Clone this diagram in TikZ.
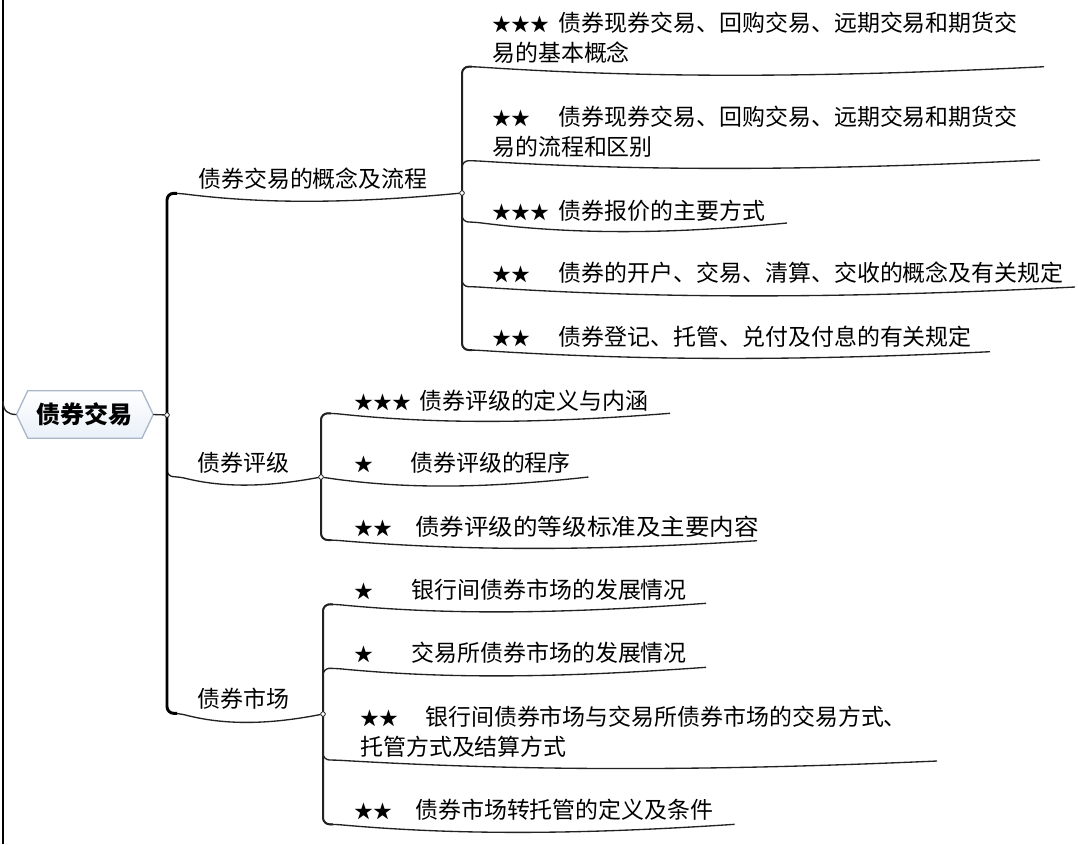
\documentclass[tikz,border=0pt]{standalone}
\usepackage{fontspec}
\setmainfont{Noto Sans CJK SC}
\newfontfamily\starfont{Noto Sans CJK SC}
\usetikzlibrary{calc,backgrounds}
\definecolor{linec}{HTML}{222222}
\definecolor{hexborder}{HTML}{A9B7CA}
\definecolor{hexfill}{HTML}{E9F0F8}
\newcommand\stars[2]{\makebox[#1][l]{\starfont\fontsize{14.2}{14.2}\selectfont #2}}
% #1 junction, #2 bracket x, #3 start y, #4 end x, #5 end y, #6 sag, #7 end coordinate name
\newcommand\ulcurve[7]{%
  \coordinate (#7) at (#4,#5);
  \draw[ulline] (#1) -- (#2,#3) -- ({#2+12},#3) .. controls ({#2+12+0.3*(#4-#2-12)},{#3+1.33*#6}) and ({#2+12+0.6*(#4-#2-12)},{#5+1.33*#6}) .. (#7);
}
% curve ending on a named junction node
\newcommand\ulcurvej[7]{%
  \draw[ulline] (#1) -- (#2,#3) -- ({#2+12},#3) .. controls ({#2+12+0.3*(#4-#2-12)},{#3+1.33*#6}) and ({#2+12+0.6*(#4-#2-12)},{#5+1.33*#6}) .. (#7);
}
\begin{document}
\begin{tikzpicture}[x=0.75pt,y=-0.75pt,
  txt/.style={anchor=west, inner sep=0pt, align=left, font=\fontsize{17.2}{22.5}\selectfont},
  junc/.style={circle, draw=linec, fill=white, inner sep=0pt, minimum size=3.4pt, line width=0.5pt},
  ulline/.style={draw=linec, line width=1pt, rounded corners=5pt},
  brk/.style={draw=linec, line width=1.5pt, rounded corners=5pt},
  mainbrk/.style={draw=black, line width=2.2pt, rounded corners=5pt},
]
\useasboundingbox (0,0) rectangle (1078,844);

% left margin line
\coordinate (ltop) at (3,0);
\coordinate (lbot) at (3,844);
\coordinate (lj) at (3,401);
\draw[draw=black, line width=2pt] (ltop) -- (lbot);

% root
\node[minimum width=102.2pt, minimum height=35.25pt, inner sep=0pt,
      font=\bfseries\fontsize{18}{18}\selectfont] (root) at (84.85,414.5) {债券交易};
\begin{scope}[on background layer]
\shadedraw[top color=white, bottom color=hexfill, draw=hexborder, line width=1pt]
  (root.west) -- ($(root.north west)+(11.3,0)$) -- ($(root.north east)+(-11.3,0)$)
  -- (root.east) -- ($(root.south east)+(-11.3,0)$) -- ($(root.south west)+(11.3,0)$) -- cycle;
\end{scope}
\draw[ulline] (lj) .. controls (3,411) and (8,414.5) .. (root.west);

% junctions
\node[junc] (j0) at (167,415) {};
\node[junc] (j1) at (462,193) {};
\node[junc] (j2) at (321,477) {};
\node[junc] (j3) at (323,714) {};
\draw[ulline] (root.east) -- (j0);

% first-level texts
\node[txt] (b1) at (198,178.3) {债券交易的概念及流程};
\node[txt] (b2) at (197.6,463) {债券评级};
\node[txt] (b3) at (197,698.3) {债券市场};

% branch 1 items
\node[txt] (i11) at (492,37.5) {\stars{50pt}{★★★}债券现券交易、回购交易、远期交易和期货交\\易的基本概念};
\node[txt] (i12) at (492,132) {\stars{50pt}{★★}债券现券交易、回购交易、远期交易和期货交\\易的流程和区别};
\node[txt] (i13) at (492,210.7) {\stars{50pt}{★★★}债券报价的主要方式};
\node[txt] (i14) at (492,273) {\stars{50pt}{★★}债券的开户、交易、清算、交收的概念及有关规定};
\node[txt] (i15) at (492,336.7) {\stars{50pt}{★★}债券登记、托管、兑付及付息的有关规定};

% branch 2 items
\node[txt] (i21) at (354,400.7) {\stars{48.75pt}{★★★}债券评级的定义与内涵};
\node[txt] (i22) at (354,463) {\stars{42pt}{★}债券评级的程序};
\node[txt] (i23) at (354,526.7) {\stars{45.75pt}{★★}\scalebox{1.07}[1]{债券评级的等级标准及主要内容}};

% branch 3 items
\node[txt] (i31) at (354,589.3) {\stars{43pt}{★}银行间债券市场的发展情况};
\node[txt] (i32) at (354,652.7) {\stars{43pt}{★}交易所债券市场的发展情况};
\node[txt] (i33) at (360,731.7) {\stars{48.75pt}{★★}银行间债券市场与交易所债券市场的交易方式、\\托管方式及结算方式};
\node[txt] (i34) at (354,810) {\stars{45.75pt}{★★}债券市场转托管的定义及条件};

% first-level connectors
\ulcurvej{j0}{167}{193.3}{462}{193}{8}{j1}
\ulcurvej{j0}{167}{476.7}{321}{477}{8}{j2}
\ulcurvej{j0}{167}{713.3}{323}{714}{8.5}{j3}

% branch 1 underlines
\ulcurve{j1}{462}{66.7}{1044}{66.7}{8.5}{e11}
\ulcurve{j1}{462}{160.7}{1040}{160}{8}{e12}
\ulcurve{j1}{462}{222}{787}{223}{9}{e13}
\ulcurve{j1}{462}{286.7}{1075}{287}{9}{e14}
\ulcurve{j1}{462}{350}{990}{351.7}{7.5}{e15}

% branch 2 underlines
\ulcurve{j2}{321}{413.3}{670}{413.3}{8}{e21}
\coordinate (e22) at (588.5,477);
\draw[ulline] (j2) .. controls (400,489) and (480,489) .. (e22);
\ulcurve{j2}{321}{540}{757}{540.7}{8}{e23}

% branch 3 underlines
\ulcurve{j3}{323}{604.3}{706}{603.3}{8}{e31}
\ulcurve{j3}{323}{668.3}{706}{667.3}{8}{e32}
\ulcurve{j3}{323}{760}{937}{761}{8}{e33}
\ulcurve{j3}{323}{824.3}{734.6}{824.3}{8}{e34}

% brackets
\draw[mainbrk] (177,193.3) -- (167,193.3) -- (167,713.3) -- (177,713.3);
\draw[brk] (472,66.7) -- (462,66.7) -- (462,350) -- (472,350);
\draw[brk] (331,413.3) -- (321,413.3) -- (321,540) -- (331,540);
\draw[brk] (333,604.3) -- (323,604.3) -- (323,824.3) -- (333,824.3);

% junction dots on top
\foreach \j in {j0,j1,j2,j3} \draw[draw=linec, fill=white, line width=0.5pt] (\j) circle (1.7pt);
\end{tikzpicture}
\end{document}
